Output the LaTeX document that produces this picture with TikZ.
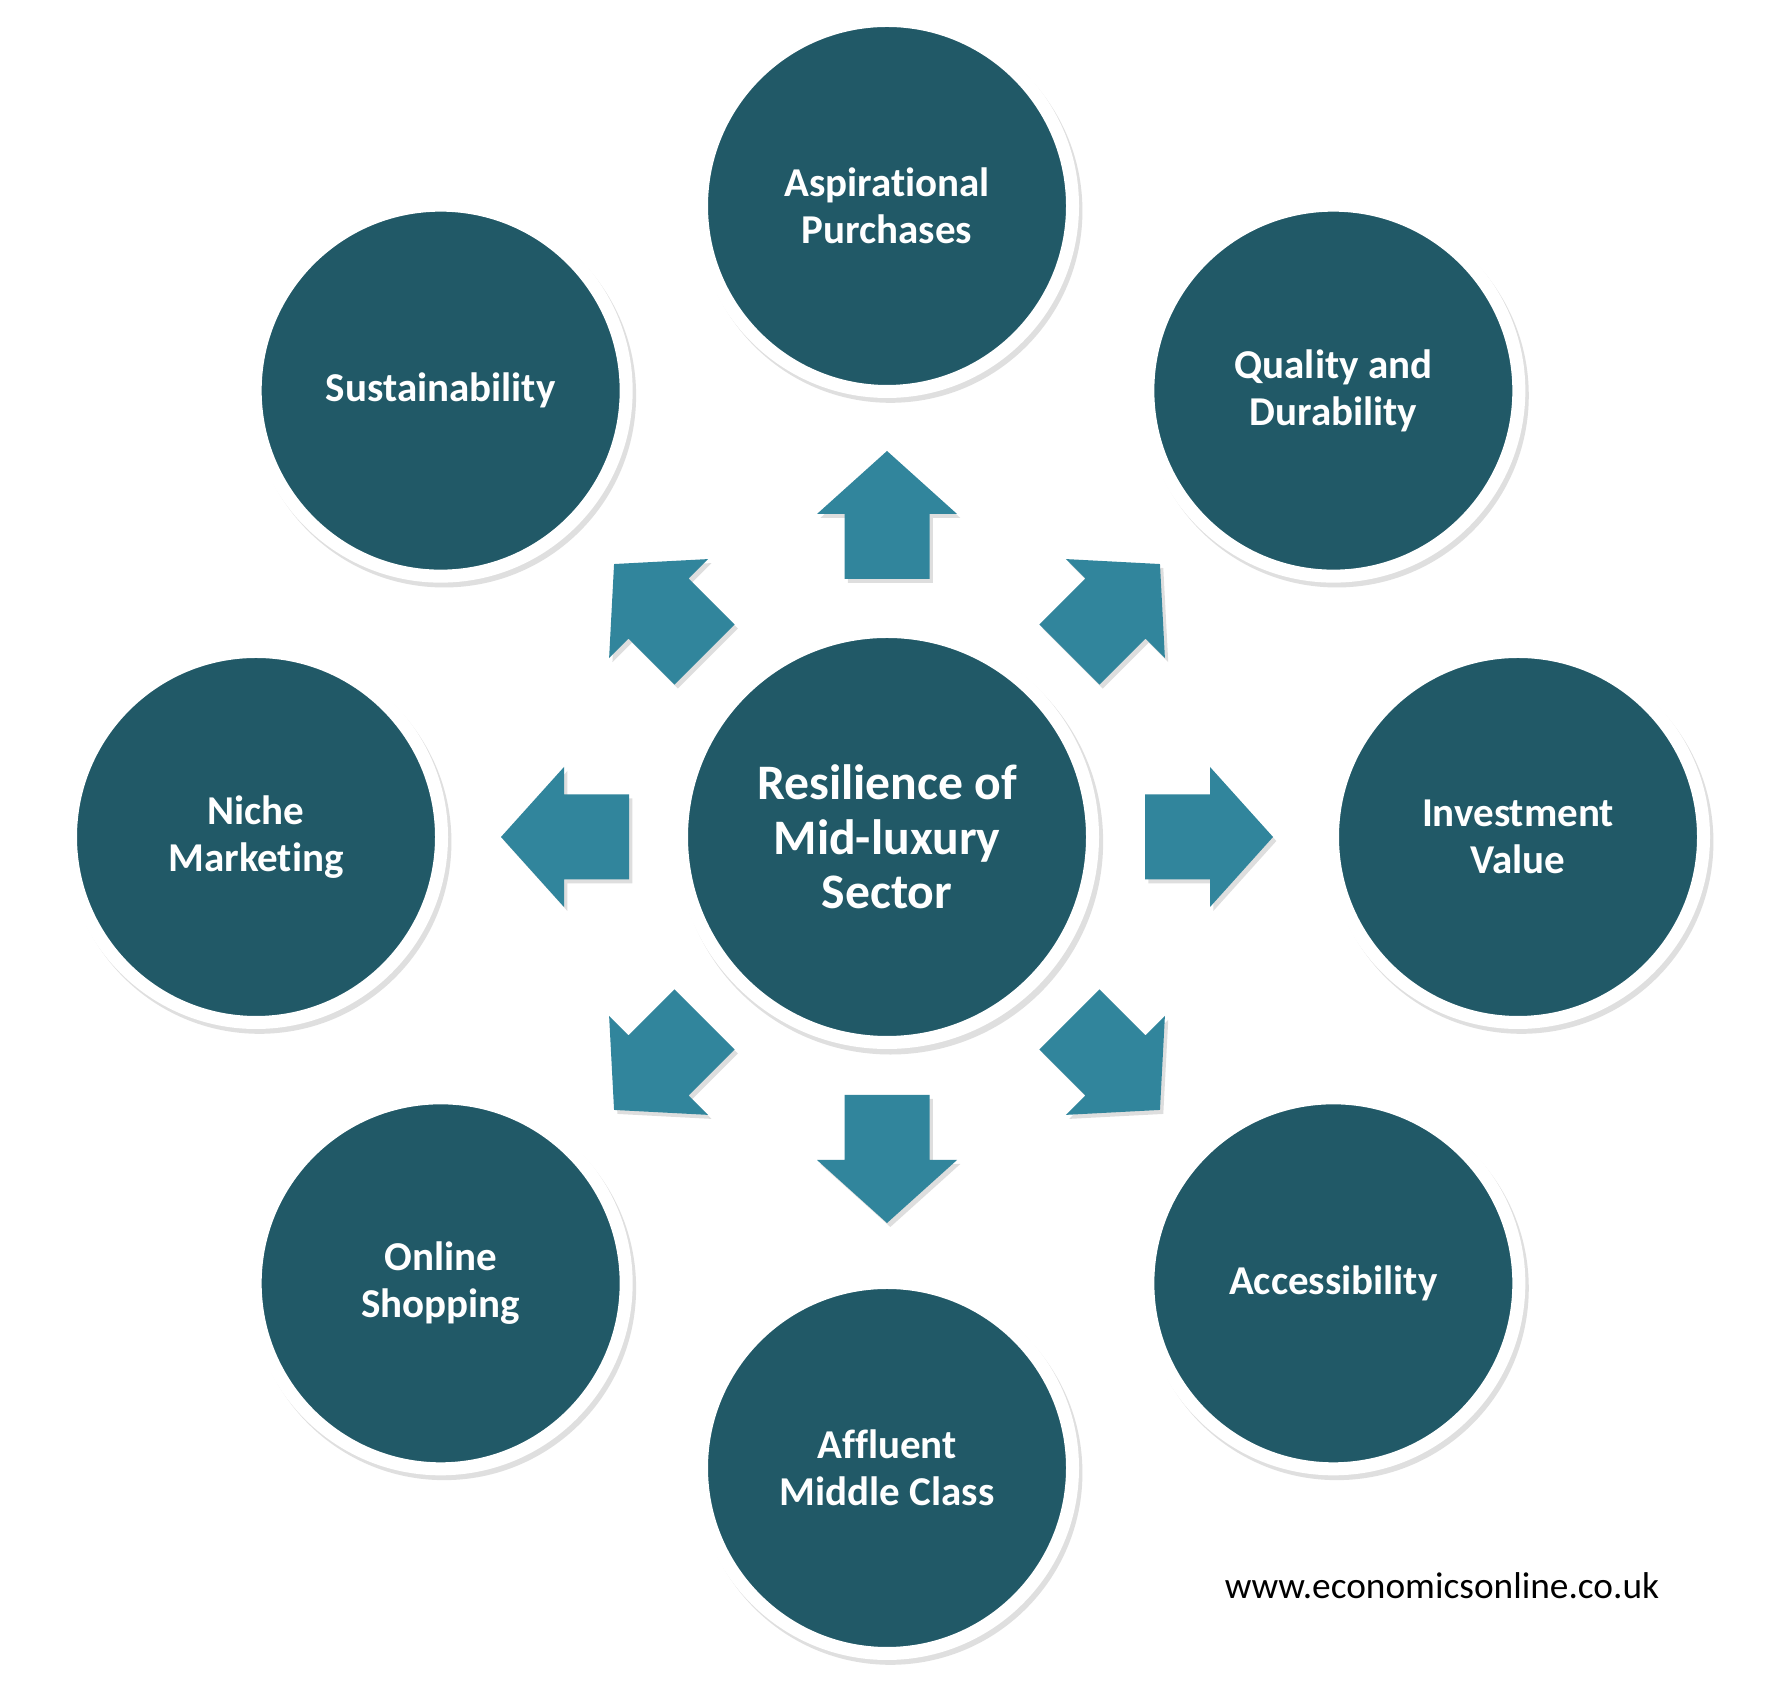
\documentclass[tikz,border=0pt]{standalone}
\usepackage{fontspec}
\setmainfont{Carlito}[Ligatures=NoCommon, RawFeature={-liga;-calt;-dlig}]
\usepackage{tikz}
\usetikzlibrary{positioning, shadows}
\definecolor{cHub}  {HTML}{215967}
\definecolor{cArrow}{HTML}{31859C}

\tikzset{
  hubcircle/.style={circle, fill=cHub, draw=white, line width=3.9pt,
    minimum size=123.3pt, inner sep=0pt, text=white, align=center,
    font=\bfseries\fontsize{14.9}{16.4}\selectfont,
    drop shadow={opacity=0.25, shadow xshift=1pt, shadow yshift=-1.4pt, shadow scale=1.035}},
  spokecircle/.style={hubcircle, minimum size=111.3pt,
    font=\bfseries\fontsize{12.3}{14.2}\selectfont},
  blockarrow/.style={fill=cArrow},
  arrowshade/.style={fill=black, opacity=0.13},
}

\begin{document}
\begin{tikzpicture}[x=0.3pt, y=0.3pt, node distance=189.3pt, on grid]
  \fill[white] (0,0) rectangle (1768,1688);
  \useasboundingbox (0,0) rectangle (1768,1688);

  % centre
  \node[hubcircle] (hub) at (887,851) {Resilience of\\Mid-luxury\\Sector};

  % ring of drivers
  \node[spokecircle, above=of hub]                          (aspir)   {Aspirational\\Purchases};
  \node[spokecircle, above right=133.9pt and 133.9pt of hub] (quality) {Quality and\\Durability};
  \node[spokecircle, right=of hub]                          (invest)  {Investment\\Value};
  \node[spokecircle, below right=133.9pt and 133.9pt of hub] (access)  {Accessibility};
  \node[spokecircle, below=of hub]                          (affluent){Affluent\\Middle Class};
  \node[spokecircle, below left=133.9pt and 133.9pt of hub]  (online)  {Online\\Shopping};
  \node[spokecircle, left=of hub]                           (niche)   {Niche\\Marketing};
  \node[spokecircle, above left=133.9pt and 133.9pt of hub]  (sustain) {Sustainability};

  % block arrows pointing outwards
  \foreach \ang in {0,45,...,315} {
    \begin{scope}[shift={(hub.center)}, xshift=1pt, yshift=-1.2pt, rotate=\ang]
      \fill[arrowshade] (258,-42.5) -- (323,-42.5) -- (323,-70) -- (386,0)
        -- (323,70) -- (323,42.5) -- (258,42.5) -- cycle;
    \end{scope}
    \begin{scope}[shift={(hub.center)}, rotate=\ang]
      \fill[blockarrow] (258,-42.5) -- (323,-42.5) -- (323,-70) -- (386,0)
        -- (323,70) -- (323,42.5) -- (258,42.5) -- cycle;
    \end{scope}
  }

  \node[font=\fontsize{11.2}{13}\selectfont] (url) at (1442,102) {www.economicsonline.co.uk};
\end{tikzpicture}
\end{document}
